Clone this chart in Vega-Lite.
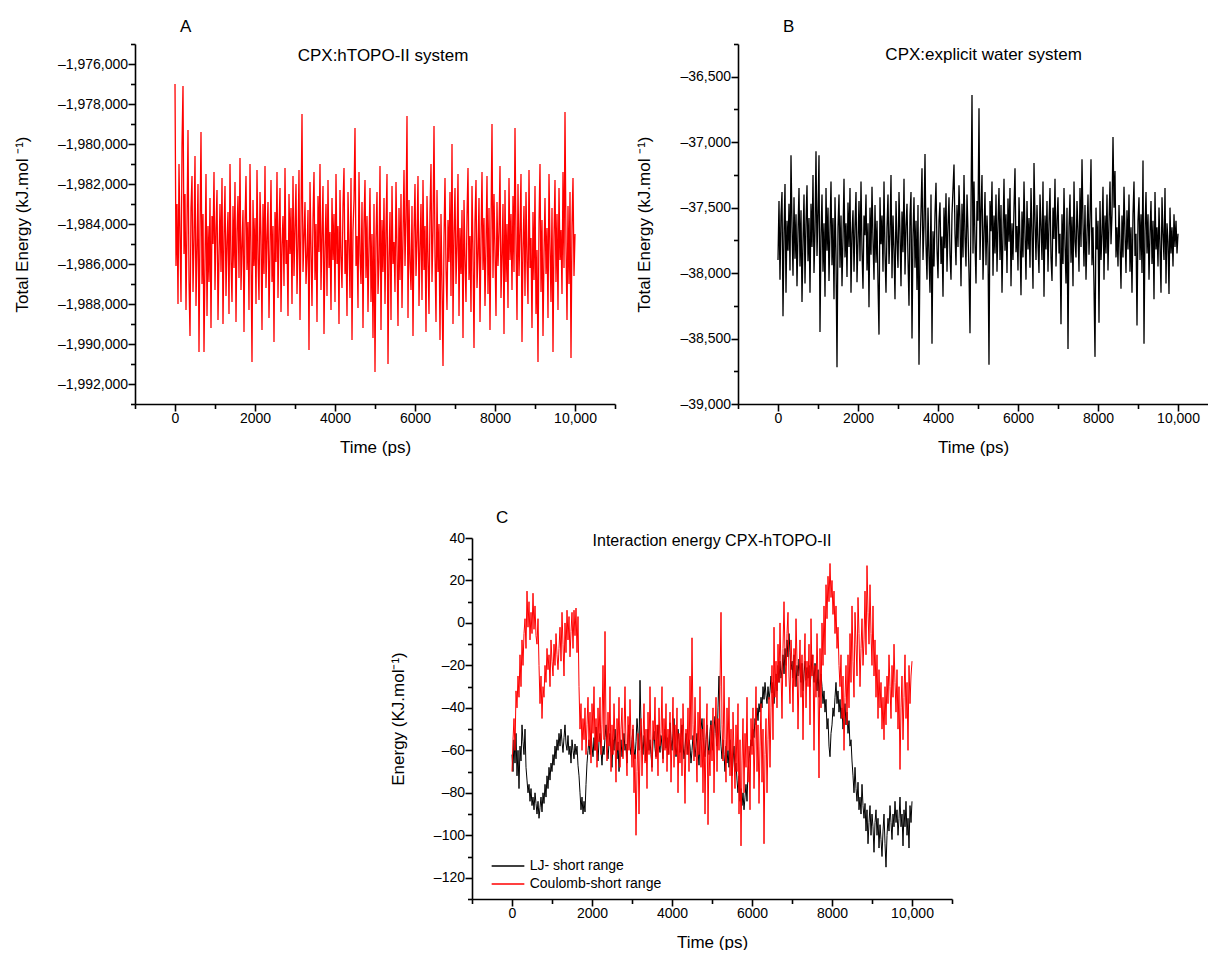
{
"$schema": "https://vega.github.io/schema/vega-lite/v6.json",
"padding": {"left": 13, "top": 18, "right": 0, "bottom": 0},
"config": {
 "view": {"stroke": null},
 "font": "Liberation Sans",
 "axis": {"grid": false, "domainColor": "#000", "domainWidth": 1.6, "tickColor": "#000", "tickWidth": 1.6, "tickSize": 6, "tickCount": 100, "labelColor": "#000", "labelFont": "Liberation Sans", "labelFontSize": 14, "titleFont": "Liberation Sans", "titleFontSize": 17, "titleFontWeight": "normal", "titleColor": "#000", "labelOverlap": false, "labelFlush": false, "labelBound": false},
 "axisX": {"labelPadding": 0.5, "titlePadding": 13.5},
 "axisY": {"labelPadding": 0.5, "titlePadding": 26},
 "title": {"font": "Liberation Sans", "fontSize": 17, "fontWeight": "normal", "anchor": "start", "color": "#000", "frame": "group"},
 "text": {"font": "Liberation Sans", "fontSize": 17, "color": "#000"}
},
"datasets": {"d": [
{"t":0,"a":-1977000,"b":-37900,"lj":-62,"co":-70},
{"t":25,"a":-1986100,"b":-37450,"lj":-70,"co":-55},
{"t":50,"a":-1983000,"b":-38050,"lj":-55,"co":-45},
{"t":75,"a":-1988000,"b":-37560,"lj":-66,"co":-60},
{"t":100,"a":-1981000,"b":-37380,"lj":-52,"co":-32},
{"t":125,"a":-1984500,"b":-38330,"lj":-72,"co":-40},
{"t":150,"a":-1987900,"b":-37700,"lj":-60,"co":-25},
{"t":175,"a":-1980100,"b":-37320,"lj":-78,"co":-35},
{"t":200,"a":-1977100,"b":-38150,"lj":-58,"co":-15},
{"t":225,"a":-1985500,"b":-37600,"lj":-65,"co":-30},
{"t":250,"a":-1982500,"b":-37830,"lj":-48,"co":-8},
{"t":275,"a":-1988300,"b":-37470,"lj":-56,"co":-20},
{"t":300,"a":-1984000,"b":-37980,"lj":-62,"co":-5},
{"t":325,"a":-1979300,"b":-37100,"lj":-50,"co":2},
{"t":350,"a":-1986800,"b":-37640,"lj":-68,"co":-12},
{"t":375,"a":-1989600,"b":-38020,"lj":-74,"co":15},
{"t":400,"a":-1983200,"b":-37420,"lj":-80,"co":-2},
{"t":425,"a":-1981600,"b":-37890,"lj":-76,"co":10},
{"t":450,"a":-1987400,"b":-37550,"lj":-84,"co":-8},
{"t":475,"a":-1984800,"b":-38100,"lj":-78,"co":5},
{"t":500,"a":-1980600,"b":-37680,"lj":-86,"co":-5},
{"t":525,"a":-1988100,"b":-37350,"lj":-82,"co":14},
{"t":550,"a":-1985200,"b":-37950,"lj":-88,"co":-3},
{"t":575,"a":-1982000,"b":-37520,"lj":-80,"co":8},
{"t":600,"a":-1990400,"b":-38220,"lj":-85,"co":-6},
{"t":625,"a":-1984300,"b":-37760,"lj":-90,"co":-10},
{"t":650,"a":-1979400,"b":-37400,"lj":-84,"co":2},
{"t":675,"a":-1987000,"b":-38080,"lj":-92,"co":-20},
{"t":700,"a":-1983500,"b":-37620,"lj":-87,"co":-38},
{"t":725,"a":-1990400,"b":-37330,"lj":-82,"co":-25},
{"t":750,"a":-1985900,"b":-37910,"lj":-89,"co":-45},
{"t":775,"a":-1981500,"b":-37580,"lj":-80,"co":-30},
{"t":800,"a":-1988600,"b":-38150,"lj":-85,"co":-35},
{"t":825,"a":-1984100,"b":-37470,"lj":-76,"co":-20},
{"t":850,"a":-1986900,"b":-37800,"lj":-82,"co":-28},
{"t":875,"a":-1982700,"b":-37250,"lj":-72,"co":-12},
{"t":900,"a":-1989200,"b":-38000,"lj":-78,"co":-22},
{"t":925,"a":-1983600,"b":-37680,"lj":-68,"co":-15},
{"t":950,"a":-1985000,"b":-37070,"lj":-74,"co":-30},
{"t":975,"a":-1981400,"b":-37870,"lj":-66,"co":-8},
{"t":1000,"a":-1987300,"b":-37540,"lj":-70,"co":-18},
{"t":1025,"a":-1984200,"b":-37100,"lj":-62,"co":-25},
{"t":1050,"a":-1982300,"b":-38450,"lj":-67,"co":-10},
{"t":1075,"a":-1988800,"b":-37720,"lj":-58,"co":-20},
{"t":1100,"a":-1985600,"b":-37400,"lj":-64,"co":-5},
{"t":1125,"a":-1983000,"b":-37990,"lj":-55,"co":-15},
{"t":1150,"a":-1986400,"b":-37620,"lj":-60,"co":-22},
{"t":1175,"a":-1981700,"b":-38180,"lj":-52,"co":-12},
{"t":1200,"a":-1989000,"b":-37350,"lj":-58,"co":-2},
{"t":1225,"a":-1984600,"b":-37830,"lj":-50,"co":-18},
{"t":1250,"a":-1982100,"b":-37500,"lj":-56,"co":5},
{"t":1275,"a":-1987600,"b":-38060,"lj":-61,"co":-10},
{"t":1300,"a":-1984900,"b":-37680,"lj":-54,"co":-25},
{"t":1325,"a":-1983400,"b":-37300,"lj":-48,"co":0},
{"t":1350,"a":-1988500,"b":-37940,"lj":-57,"co":-14},
{"t":1375,"a":-1981000,"b":-37580,"lj":-60,"co":6},
{"t":1400,"a":-1985800,"b":-38200,"lj":-53,"co":-8},
{"t":1425,"a":-1987900,"b":-37420,"lj":-62,"co":3},
{"t":1450,"a":-1983100,"b":-37870,"lj":-58,"co":-16},
{"t":1475,"a":-1986200,"b":-38720,"lj":-66,"co":-4},
{"t":1500,"a":-1981900,"b":-37650,"lj":-55,"co":5},
{"t":1525,"a":-1988900,"b":-37400,"lj":-60,"co":-12},
{"t":1550,"a":-1984400,"b":-37960,"lj":-64,"co":6},
{"t":1575,"a":-1982600,"b":-37560,"lj":-57,"co":-6},
{"t":1600,"a":-1986700,"b":-38100,"lj":-62,"co":7},
{"t":1625,"a":-1980700,"b":-37730,"lj":-58,"co":-14},
{"t":1650,"a":-1987300,"b":-37280,"lj":-67,"co":3},
{"t":1675,"a":-1985100,"b":-37880,"lj":-72,"co":-30},
{"t":1700,"a":-1983300,"b":-37620,"lj":-80,"co":-50},
{"t":1725,"a":-1989400,"b":-38030,"lj":-88,"co":-38},
{"t":1750,"a":-1984000,"b":-37460,"lj":-82,"co":-60},
{"t":1775,"a":-1981600,"b":-37800,"lj":-90,"co":-45},
{"t":1800,"a":-1986300,"b":-37350,"lj":-84,"co":-55},
{"t":1825,"a":-1983900,"b":-38150,"lj":-89,"co":-40},
{"t":1850,"a":-1988300,"b":-37700,"lj":-76,"co":-62},
{"t":1875,"a":-1981000,"b":-37520,"lj":-66,"co":-48},
{"t":1900,"a":-1985400,"b":-37990,"lj":-60,"co":-35},
{"t":1925,"a":-1990900,"b":-37640,"lj":-55,"co":-58},
{"t":1950,"a":-1982800,"b":-37380,"lj":-62,"co":-42},
{"t":1975,"a":-1986100,"b":-38070,"lj":-52,"co":-66},
{"t":2000,"a":-1983700,"b":-37760,"lj":-58,"co":-38},
{"t":2025,"a":-1988000,"b":-37450,"lj":-63,"co":-52},
{"t":2050,"a":-1981300,"b":-37910,"lj":-54,"co":-30},
{"t":2075,"a":-1985700,"b":-37300,"lj":-60,"co":-60},
{"t":2100,"a":-1987800,"b":-37830,"lj":-49,"co":-45},
{"t":2125,"a":-1982400,"b":-38120,"lj":-57,"co":-68},
{"t":2150,"a":-1984600,"b":-37560,"lj":-65,"co":-40},
{"t":2175,"a":-1989300,"b":-37710,"lj":-56,"co":-56},
{"t":2200,"a":-1983000,"b":-37400,"lj":-52,"co":-35},
{"t":2225,"a":-1986500,"b":-37980,"lj":-60,"co":-62},
{"t":2250,"a":-1981100,"b":-37620,"lj":-67,"co":-48},
{"t":2275,"a":-1987200,"b":-38260,"lj":-58,"co":-20},
{"t":2300,"a":-1984700,"b":-37500,"lj":-62,"co":-55},
{"t":2325,"a":-1982900,"b":-37860,"lj":-54,"co":-4},
{"t":2350,"a":-1988700,"b":-37340,"lj":-48,"co":-50},
{"t":2375,"a":-1985300,"b":-37750,"lj":-59,"co":-65},
{"t":2400,"a":-1981800,"b":-38050,"lj":-64,"co":-42},
{"t":2425,"a":-1986900,"b":-37480,"lj":-57,"co":-58},
{"t":2450,"a":-1984100,"b":-37920,"lj":-52,"co":-30},
{"t":2475,"a":-1989900,"b":-37600,"lj":-61,"co":-70},
{"t":2500,"a":-1983400,"b":-38080,"lj":-68,"co":-48},
{"t":2525,"a":-1985900,"b":-38470,"lj":-55,"co":-62},
{"t":2550,"a":-1981400,"b":-37420,"lj":-60,"co":-38},
{"t":2575,"a":-1987700,"b":-37780,"lj":-50,"co":-55},
{"t":2600,"a":-1984300,"b":-37560,"lj":-58,"co":-75},
{"t":2625,"a":-1982200,"b":-37990,"lj":-64,"co":-45},
{"t":2650,"a":-1988400,"b":-37300,"lj":-56,"co":-60},
{"t":2675,"a":-1985000,"b":-37850,"lj":-70,"co":-35},
{"t":2700,"a":-1983600,"b":-38150,"lj":-61,"co":-68},
{"t":2725,"a":-1987100,"b":-37650,"lj":-55,"co":-50},
{"t":2750,"a":-1981200,"b":-37400,"lj":-63,"co":-40},
{"t":2775,"a":-1986000,"b":-37930,"lj":-58,"co":-64},
{"t":2800,"a":-1984800,"b":-37700,"lj":-52,"co":-52},
{"t":2825,"a":-1988600,"b":-37250,"lj":-60,"co":-30},
{"t":2850,"a":-1982500,"b":-38040,"lj":-57,"co":-58},
{"t":2875,"a":-1985500,"b":-37560,"lj":-66,"co":-72},
{"t":2900,"a":-1983200,"b":-37820,"lj":-54,"co":-44},
{"t":2925,"a":-1988000,"b":-38200,"lj":-48,"co":-60},
{"t":2950,"a":-1981600,"b":-37450,"lj":-58,"co":-36},
{"t":2975,"a":-1986600,"b":-37750,"lj":-62,"co":-55},
{"t":3000,"a":-1984200,"b":-37960,"lj":-55,"co":-68},
{"t":3025,"a":-1982000,"b":-37380,"lj":-50,"co":-48},
{"t":3050,"a":-1987500,"b":-37690,"lj":-59,"co":-80},
{"t":3075,"a":-1985100,"b":-38100,"lj":-64,"co":-62},
{"t":3100,"a":-1981300,"b":-37530,"lj":-56,"co":-100},
{"t":3125,"a":-1988800,"b":-37840,"lj":-45,"co":-70},
{"t":3150,"a":-1983900,"b":-37280,"lj":-52,"co":-52},
{"t":3175,"a":-1978500,"b":-38010,"lj":-60,"co":-90},
{"t":3200,"a":-1986400,"b":-37640,"lj":-27,"co":-60},
{"t":3225,"a":-1984700,"b":-37470,"lj":-48,"co":-45},
{"t":3250,"a":-1982900,"b":-37890,"lj":-56,"co":-72},
{"t":3275,"a":-1987000,"b":-38250,"lj":-62,"co":-55},
{"t":3300,"a":-1985600,"b":-37560,"lj":-53,"co":-38},
{"t":3325,"a":-1983300,"b":-37380,"lj":-58,"co":-66},
{"t":3350,"a":-1990300,"b":-38500,"lj":-65,"co":-50},
{"t":3375,"a":-1981900,"b":-37720,"lj":-57,"co":-78},
{"t":3400,"a":-1985200,"b":-37420,"lj":-50,"co":-42},
{"t":3425,"a":-1988100,"b":-37960,"lj":-60,"co":-62},
{"t":3450,"a":-1983800,"b":-37600,"lj":-55,"co":-30},
{"t":3475,"a":-1981400,"b":-38130,"lj":-62,"co":-58},
{"t":3500,"a":-1986800,"b":-37480,"lj":-68,"co":-70},
{"t":3525,"a":-1984000,"b":-38700,"lj":-56,"co":-46},
{"t":3550,"a":-1988900,"b":-37820,"lj":-51,"co":-55},
{"t":3575,"a":-1982600,"b":-37530,"lj":-59,"co":-35},
{"t":3600,"a":-1985400,"b":-37200,"lj":-63,"co":-64},
{"t":3625,"a":-1981000,"b":-37900,"lj":-55,"co":-48},
{"t":3650,"a":-1987300,"b":-37640,"lj":-48,"co":-72},
{"t":3675,"a":-1984500,"b":-37090,"lj":-57,"co":-40},
{"t":3700,"a":-1982100,"b":-37780,"lj":-61,"co":-58},
{"t":3725,"a":-1989500,"b":-38050,"lj":-53,"co":-52},
{"t":3750,"a":-1985200,"b":-37500,"lj":-58,"co":-30},
{"t":3775,"a":-1983000,"b":-37870,"lj":-64,"co":-66},
{"t":3800,"a":-1987600,"b":-38150,"lj":-56,"co":-45},
{"t":3825,"a":-1981800,"b":-37400,"lj":-50,"co":-60},
{"t":3850,"a":-1986200,"b":-38540,"lj":-59,"co":-38},
{"t":3875,"a":-1984400,"b":-37680,"lj":-54,"co":-70},
{"t":3900,"a":-1988300,"b":-37950,"lj":-62,"co":-50},
{"t":3925,"a":-1982700,"b":-37550,"lj":-57,"co":-62},
{"t":3950,"a":-1985800,"b":-37310,"lj":-47,"co":-42},
{"t":3975,"a":-1983500,"b":-37820,"lj":-55,"co":-75},
{"t":4000,"a":-1987900,"b":-38040,"lj":-60,"co":-55},
{"t":4025,"a":-1981500,"b":-37600,"lj":-52,"co":-35},
{"t":4050,"a":-1986000,"b":-37460,"lj":-45,"co":-68},
{"t":4075,"a":-1984100,"b":-37930,"lj":-56,"co":-48},
{"t":4100,"a":-1989000,"b":-37720,"lj":-63,"co":-62},
{"t":4125,"a":-1982300,"b":-38180,"lj":-58,"co":-40},
{"t":4150,"a":-1985600,"b":-37500,"lj":-50,"co":-80},
{"t":4175,"a":-1987200,"b":-37810,"lj":-55,"co":-52},
{"t":4200,"a":-1983100,"b":-37390,"lj":-61,"co":-66},
{"t":4225,"a":-1981200,"b":-37990,"lj":-54,"co":-45},
{"t":4250,"a":-1986500,"b":-37640,"lj":-48,"co":-72},
{"t":4275,"a":-1984800,"b":-37420,"lj":-57,"co":-38},
{"t":4300,"a":-1988600,"b":-37860,"lj":-64,"co":-58},
{"t":4325,"a":-1982400,"b":-38050,"lj":-59,"co":-85},
{"t":4350,"a":-1985000,"b":-37550,"lj":-52,"co":-50},
{"t":4375,"a":-1987700,"b":-37360,"lj":-56,"co":-62},
{"t":4400,"a":-1981700,"b":-37170,"lj":-62,"co":-40},
{"t":4425,"a":-1989800,"b":-37700,"lj":-55,"co":-70},
{"t":4450,"a":-1984300,"b":-37940,"lj":-58,"co":-25},
{"t":4475,"a":-1982800,"b":-37480,"lj":-66,"co":-55},
{"t":4500,"a":-1979200,"b":-37800,"lj":-60,"co":-7},
{"t":4525,"a":-1986100,"b":-37330,"lj":-53,"co":-48},
{"t":4550,"a":-1984600,"b":-37600,"lj":-57,"co":-65},
{"t":4575,"a":-1988200,"b":-38100,"lj":-63,"co":-35},
{"t":4600,"a":-1981400,"b":-37470,"lj":-58,"co":-58},
{"t":4625,"a":-1985500,"b":-37880,"lj":-52,"co":-75},
{"t":4650,"a":-1987000,"b":-37250,"lj":-60,"co":-42},
{"t":4675,"a":-1982900,"b":-37720,"lj":-67,"co":-62},
{"t":4700,"a":-1989200,"b":-37950,"lj":-56,"co":-30},
{"t":4725,"a":-1984000,"b":-37400,"lj":-50,"co":-68},
{"t":4750,"a":-1981800,"b":-37680,"lj":-45,"co":-50},
{"t":4775,"a":-1986700,"b":-38000,"lj":-54,"co":-80},
{"t":4800,"a":-1983600,"b":-38460,"lj":-59,"co":-45},
{"t":4825,"a":-1988400,"b":-37500,"lj":-63,"co":-90},
{"t":4850,"a":-1985100,"b":-36640,"lj":-55,"co":-55},
{"t":4875,"a":-1982200,"b":-37850,"lj":-48,"co":-38},
{"t":4900,"a":-1987900,"b":-37300,"lj":-57,"co":-95},
{"t":4925,"a":-1984500,"b":-37760,"lj":-62,"co":-60},
{"t":4950,"a":-1989700,"b":-38080,"lj":-51,"co":-72},
{"t":4975,"a":-1983000,"b":-37450,"lj":-46,"co":-48},
{"t":5000,"a":-1991400,"b":-37600,"lj":-55,"co":-65},
{"t":5025,"a":-1984700,"b":-36740,"lj":-60,"co":-40},
{"t":5050,"a":-1982400,"b":-37900,"lj":-50,"co":-80},
{"t":5075,"a":-1987500,"b":-37520,"lj":-44,"co":-52},
{"t":5100,"a":-1985900,"b":-37250,"lj":-52,"co":-35},
{"t":5125,"a":-1981100,"b":-38050,"lj":-58,"co":-70},
{"t":5150,"a":-1989300,"b":-37700,"lj":-40,"co":-45},
{"t":5175,"a":-1983800,"b":-37380,"lj":-25,"co":-60},
{"t":5200,"a":-1986400,"b":-37940,"lj":-50,"co":-30},
{"t":5225,"a":-1982700,"b":-37560,"lj":-58,"co":5},
{"t":5250,"a":-1988000,"b":-37810,"lj":-64,"co":-48},
{"t":5275,"a":-1984200,"b":-38700,"lj":-55,"co":-65},
{"t":5300,"a":-1981500,"b":-37450,"lj":-62,"co":-25},
{"t":5325,"a":-1991000,"b":-37680,"lj":-70,"co":-55},
{"t":5350,"a":-1985700,"b":-37300,"lj":-58,"co":-75},
{"t":5375,"a":-1983400,"b":-38020,"lj":-66,"co":-40},
{"t":5400,"a":-1988800,"b":-37560,"lj":-60,"co":-60},
{"t":5425,"a":-1982100,"b":-37850,"lj":-68,"co":-35},
{"t":5450,"a":-1986000,"b":-37400,"lj":-55,"co":-72},
{"t":5475,"a":-1984900,"b":-37990,"lj":-63,"co":-50},
{"t":5500,"a":-1987400,"b":-37620,"lj":-72,"co":-85},
{"t":5525,"a":-1981900,"b":-37350,"lj":-65,"co":-42},
{"t":5550,"a":-1985300,"b":-37900,"lj":-58,"co":-62},
{"t":5575,"a":-1989100,"b":-37480,"lj":-70,"co":-78},
{"t":5600,"a":-1983200,"b":-38150,"lj":-66,"co":-48},
{"t":5625,"a":-1986800,"b":-37700,"lj":-74,"co":-70},
{"t":5650,"a":-1982500,"b":-37280,"lj":-80,"co":-38},
{"t":5675,"a":-1988200,"b":-37830,"lj":-72,"co":-90},
{"t":5700,"a":-1984600,"b":-37550,"lj":-84,"co":-55},
{"t":5725,"a":-1981300,"b":-38000,"lj":-78,"co":-105},
{"t":5750,"a":-1986100,"b":-37430,"lj":-86,"co":-65},
{"t":5775,"a":-1983700,"b":-37760,"lj":-80,"co":-45},
{"t":5800,"a":-1978600,"b":-37350,"lj":-88,"co":-80},
{"t":5825,"a":-1988700,"b":-38100,"lj":-82,"co":-52},
{"t":5850,"a":-1982800,"b":-37620,"lj":-76,"co":-68},
{"t":5875,"a":-1985900,"b":-37900,"lj":-84,"co":-35},
{"t":5900,"a":-1987300,"b":-37500,"lj":-70,"co":-75},
{"t":5925,"a":-1983100,"b":-37200,"lj":-64,"co":-58},
{"t":5950,"a":-1989600,"b":-37840,"lj":-60,"co":-88},
{"t":5975,"a":-1984400,"b":-37640,"lj":-55,"co":-45},
{"t":6000,"a":-1982000,"b":-37980,"lj":-58,"co":-62},
{"t":6025,"a":-1986600,"b":-37420,"lj":-50,"co":-40},
{"t":6050,"a":-1984800,"b":-37750,"lj":-54,"co":-78},
{"t":6075,"a":-1981600,"b":-38170,"lj":-45,"co":-55},
{"t":6100,"a":-1988100,"b":-37530,"lj":-48,"co":-30},
{"t":6125,"a":-1985200,"b":-37880,"lj":-40,"co":-70},
{"t":6150,"a":-1983000,"b":-37300,"lj":-46,"co":-48},
{"t":6175,"a":-1987800,"b":-37700,"lj":-38,"co":-85},
{"t":6200,"a":-1981800,"b":-38050,"lj":-42,"co":-58},
{"t":6225,"a":-1986300,"b":-37450,"lj":-35,"co":-38},
{"t":6250,"a":-1984100,"b":-37820,"lj":-40,"co":-75},
{"t":6275,"a":-1989400,"b":-37580,"lj":-30,"co":-50},
{"t":6300,"a":-1982600,"b":-37960,"lj":-36,"co":-104},
{"t":6325,"a":-1985700,"b":-37350,"lj":-28,"co":-62},
{"t":6350,"a":-1988500,"b":-37700,"lj":-34,"co":-45},
{"t":6375,"a":-1983400,"b":-38120,"lj":-38,"co":-80},
{"t":6400,"a":-1981000,"b":-37160,"lj":-30,"co":-55},
{"t":6425,"a":-1986900,"b":-37600,"lj":-36,"co":-35},
{"t":6450,"a":-1984300,"b":-37900,"lj":-32,"co":-68},
{"t":6475,"a":-1979100,"b":-37480,"lj":-25,"co":-40},
{"t":6500,"a":-1985600,"b":-37780,"lj":-33,"co":-20},
{"t":6525,"a":-1988900,"b":-38000,"lj":-28,"co":-55},
{"t":6550,"a":-1982300,"b":-37400,"lj":-38,"co":-2},
{"t":6575,"a":-1986400,"b":-37650,"lj":-30,"co":-35},
{"t":6600,"a":-1984000,"b":-37900,"lj":-24,"co":-18},
{"t":6625,"a":-1989800,"b":-37300,"lj":-32,"co":-40},
{"t":6650,"a":-1983500,"b":-38180,"lj":-20,"co":-10},
{"t":6675,"a":-1987100,"b":-37560,"lj":-28,"co":-28},
{"t":6700,"a":-1991100,"b":-37820,"lj":-18,"co":0},
{"t":6725,"a":-1984700,"b":-37450,"lj":-26,"co":-22},
{"t":6750,"a":-1981700,"b":-37990,"lj":-22,"co":-45},
{"t":6775,"a":-1986200,"b":-37620,"lj":-15,"co":-12},
{"t":6800,"a":-1988300,"b":-37350,"lj":-24,"co":10},
{"t":6825,"a":-1983800,"b":-37880,"lj":-12,"co":-15},
{"t":6850,"a":-1985900,"b":-38060,"lj":-20,"co":-30},
{"t":6875,"a":-1982400,"b":-37500,"lj":-8,"co":-5},
{"t":6900,"a":-1987600,"b":-37740,"lj":-16,"co":5},
{"t":6925,"a":-1980000,"b":-37280,"lj":-5,"co":-25},
{"t":6950,"a":-1989000,"b":-37950,"lj":-14,"co":-38},
{"t":6975,"a":-1984500,"b":-37600,"lj":-22,"co":-8},
{"t":7000,"a":-1982200,"b":-37420,"lj":-18,"co":-20},
{"t":7025,"a":-1987000,"b":-37850,"lj":-26,"co":-42},
{"t":7050,"a":-1985100,"b":-37700,"lj":-15,"co":-12},
{"t":7075,"a":-1981500,"b":-38390,"lj":-22,"co":-30},
{"t":7100,"a":-1988600,"b":-37550,"lj":-30,"co":2},
{"t":7125,"a":-1984200,"b":-37930,"lj":-20,"co":-18},
{"t":7150,"a":-1986500,"b":-37350,"lj":-25,"co":-50},
{"t":7175,"a":-1983300,"b":-37780,"lj":-17,"co":-25},
{"t":7200,"a":-1989700,"b":-38080,"lj":-23,"co":-8},
{"t":7225,"a":-1982800,"b":-37500,"lj":-28,"co":-35},
{"t":7250,"a":-1985800,"b":-38580,"lj":-19,"co":-15},
{"t":7275,"a":-1987900,"b":-37650,"lj":-32,"co":-55},
{"t":7300,"a":-1983600,"b":-37400,"lj":-24,"co":-22},
{"t":7325,"a":-1981200,"b":-37920,"lj":-18,"co":-5},
{"t":7350,"a":-1986800,"b":-37570,"lj":-27,"co":-40},
{"t":7375,"a":-1984600,"b":-38100,"lj":-21,"co":-18},
{"t":7400,"a":-1988400,"b":-37300,"lj":-26,"co":-30},
{"t":7425,"a":-1982100,"b":-37760,"lj":-20,"co":-10},
{"t":7450,"a":-1985300,"b":-37880,"lj":-30,"co":-48},
{"t":7475,"a":-1990200,"b":-37450,"lj":-24,"co":2},
{"t":7500,"a":-1983900,"b":-37680,"lj":-15,"co":-25},
{"t":7525,"a":-1981800,"b":-37990,"lj":-22,"co":-15},
{"t":7550,"a":-1987200,"b":-37350,"lj":-28,"co":-60},
{"t":7575,"a":-1985500,"b":-37800,"lj":-19,"co":-20},
{"t":7600,"a":-1982700,"b":-37130,"lj":-25,"co":-35},
{"t":7625,"a":-1988900,"b":-37620,"lj":-32,"co":-5},
{"t":7650,"a":-1984800,"b":-37950,"lj":-22,"co":-28},
{"t":7675,"a":-1981400,"b":-37480,"lj":-35,"co":-73},
{"t":7700,"a":-1986300,"b":-38050,"lj":-28,"co":-12},
{"t":7725,"a":-1983700,"b":-37700,"lj":-24,"co":-40},
{"t":7750,"a":-1988100,"b":-37400,"lj":-30,"co":0},
{"t":7775,"a":-1985000,"b":-37860,"lj":-38,"co":-20},
{"t":7800,"a":-1981600,"b":-37580,"lj":-32,"co":8},
{"t":7825,"a":-1987500,"b":-37130,"lj":-42,"co":-15},
{"t":7850,"a":-1983200,"b":-37940,"lj":-36,"co":18},
{"t":7875,"a":-1989300,"b":-37650,"lj":-50,"co":2},
{"t":7900,"a":-1984100,"b":-38100,"lj":-45,"co":22},
{"t":7925,"a":-1979000,"b":-38640,"lj":-58,"co":10},
{"t":7950,"a":-1986700,"b":-37500,"lj":-63,"co":28},
{"t":7975,"a":-1982500,"b":-37820,"lj":-52,"co":12},
{"t":8000,"a":-1985400,"b":-37600,"lj":-48,"co":20},
{"t":8025,"a":-1988600,"b":-38380,"lj":-40,"co":4},
{"t":8050,"a":-1982900,"b":-37450,"lj":-44,"co":15},
{"t":8075,"a":-1986100,"b":-37900,"lj":-35,"co":-5},
{"t":8100,"a":-1984400,"b":-37700,"lj":-28,"co":8},
{"t":8125,"a":-1981100,"b":-37340,"lj":-38,"co":-12},
{"t":8150,"a":-1987700,"b":-38050,"lj":-32,"co":-2},
{"t":8175,"a":-1985600,"b":-37560,"lj":-42,"co":-20},
{"t":8200,"a":-1983000,"b":-37850,"lj":-36,"co":-30},
{"t":8225,"a":-1989500,"b":-37400,"lj":-45,"co":-15},
{"t":8250,"a":-1982300,"b":-37980,"lj":-40,"co":-45},
{"t":8275,"a":-1986900,"b":-37620,"lj":-50,"co":-25},
{"t":8300,"a":-1984000,"b":-37300,"lj":-44,"co":-60},
{"t":8325,"a":-1988200,"b":-37780,"lj":-38,"co":-35},
{"t":8350,"a":-1981700,"b":-37550,"lj":-48,"co":-20},
{"t":8375,"a":-1985800,"b":-36960,"lj":-42,"co":-48},
{"t":8400,"a":-1983500,"b":-37500,"lj":-52,"co":-15},
{"t":8425,"a":-1987300,"b":-37220,"lj":-46,"co":-40},
{"t":8450,"a":-1982600,"b":-37880,"lj":-58,"co":-5},
{"t":8475,"a":-1986400,"b":-37650,"lj":-55,"co":-28},
{"t":8500,"a":-1979200,"b":-37950,"lj":-65,"co":8},
{"t":8525,"a":-1984900,"b":-37480,"lj":-72,"co":-18},
{"t":8550,"a":-1988800,"b":-37780,"lj":-80,"co":-35},
{"t":8575,"a":-1982000,"b":-38120,"lj":-68,"co":5},
{"t":8600,"a":-1986600,"b":-37560,"lj":-78,"co":-10},
{"t":8625,"a":-1984300,"b":-37880,"lj":-84,"co":-25},
{"t":8650,"a":-1981500,"b":-37340,"lj":-75,"co":12},
{"t":8675,"a":-1989900,"b":-37700,"lj":-88,"co":-5},
{"t":8700,"a":-1985200,"b":-38000,"lj":-82,"co":-30},
{"t":8725,"a":-1983100,"b":-37520,"lj":-90,"co":-12},
{"t":8750,"a":-1987600,"b":-37820,"lj":-76,"co":2},
{"t":8775,"a":-1982400,"b":-37400,"lj":-86,"co":-20},
{"t":8800,"a":-1985900,"b":-37990,"lj":-92,"co":-8},
{"t":8825,"a":-1988000,"b":-37650,"lj":-85,"co":15},
{"t":8850,"a":-1981300,"b":-38150,"lj":-98,"co":-15},
{"t":8875,"a":-1986200,"b":-37550,"lj":-88,"co":27},
{"t":8900,"a":-1984700,"b":-37300,"lj":-104,"co":5},
{"t":8925,"a":-1989200,"b":-37870,"lj":-94,"co":-10},
{"t":8950,"a":-1983400,"b":-37700,"lj":-86,"co":18},
{"t":8975,"a":-1986800,"b":-38400,"lj":-100,"co":-5},
{"t":9000,"a":-1982100,"b":-37600,"lj":-90,"co":-20},
{"t":9025,"a":-1988500,"b":-37420,"lj":-96,"co":8},
{"t":9050,"a":-1985300,"b":-37900,"lj":-108,"co":-25},
{"t":9075,"a":-1990900,"b":-37550,"lj":-94,"co":-8},
{"t":9100,"a":-1984000,"b":-38000,"lj":-88,"co":-35},
{"t":9125,"a":-1981000,"b":-37140,"lj":-100,"co":-15},
{"t":9150,"a":-1987400,"b":-38540,"lj":-92,"co":-45},
{"t":9175,"a":-1983800,"b":-37680,"lj":-106,"co":-22},
{"t":9200,"a":-1989600,"b":-37380,"lj":-95,"co":-40},
{"t":9225,"a":-1985500,"b":-37850,"lj":-102,"co":-28},
{"t":9250,"a":-1982700,"b":-37550,"lj":-110,"co":-50},
{"t":9275,"a":-1986500,"b":-38050,"lj":-98,"co":-35},
{"t":9300,"a":-1984200,"b":-37700,"lj":-90,"co":-55},
{"t":9325,"a":-1988700,"b":-37450,"lj":-104,"co":-30},
{"t":9350,"a":-1981500,"b":-37930,"lj":-115,"co":-48},
{"t":9375,"a":-1985100,"b":-37600,"lj":-100,"co":-25},
{"t":9400,"a":-1987900,"b":-38200,"lj":-92,"co":-38},
{"t":9425,"a":-1983200,"b":-37380,"lj":-98,"co":-15},
{"t":9450,"a":-1990400,"b":-37820,"lj":-86,"co":-30},
{"t":9475,"a":-1984600,"b":-37650,"lj":-94,"co":-45},
{"t":9500,"a":-1981800,"b":-37950,"lj":-102,"co":-20},
{"t":9525,"a":-1986900,"b":-37500,"lj":-90,"co":-35},
{"t":9550,"a":-1983500,"b":-37800,"lj":-96,"co":-10},
{"t":9575,"a":-1988300,"b":-38150,"lj":-84,"co":-28},
{"t":9600,"a":-1982200,"b":-37420,"lj":-94,"co":-42},
{"t":9625,"a":-1985800,"b":-37700,"lj":-88,"co":-22},
{"t":9650,"a":-1984300,"b":-37900,"lj":-100,"co":-50},
{"t":9675,"a":-1987500,"b":-37350,"lj":-92,"co":-30},
{"t":9700,"a":-1981400,"b":-38080,"lj":-82,"co":-69},
{"t":9725,"a":-1986200,"b":-37620,"lj":-96,"co":-40},
{"t":9750,"a":-1978400,"b":-37760,"lj":-90,"co":-25},
{"t":9775,"a":-1985000,"b":-38160,"lj":-105,"co":-55},
{"t":9800,"a":-1988800,"b":-37500,"lj":-88,"co":-35},
{"t":9825,"a":-1983100,"b":-37850,"lj":-96,"co":-15},
{"t":9850,"a":-1987000,"b":-37650,"lj":-84,"co":-45},
{"t":9875,"a":-1982400,"b":-37950,"lj":-100,"co":-28},
{"t":9900,"a":-1990700,"b":-37550,"lj":-92,"co":-60},
{"t":9925,"a":-1984100,"b":-37800,"lj":-106,"co":-20},
{"t":9950,"a":-1981700,"b":-37600,"lj":-86,"co":-38},
{"t":9975,"a":-1986600,"b":-37850,"lj":-94,"co":-25},
{"t":10000,"a":-1984500,"b":-37700,"lj":-84,"co":-18}
]},
"data": {"name": "d"},
"spacing": 53,
"vconcat": [
 {"hconcat": [
  {"width": 480, "height": 360,
   "title": {"text": "A", "dx": 45, "offset": 1},
   "layer": [
    {"mark": {"type": "line", "color": "#ff0000", "strokeWidth": 1.3},
     "encoding": {
      "x": {"field": "t", "type": "quantitative", "scale": {"domain": [-1000, 11000], "nice": false, "zero": false},
            "axis": {"title": "Time (ps)", "tickCount": 100, "values": [-1000,0,1000,2000,3000,4000,5000,6000,7000,8000,9000,10000,11000],
                     "labelExpr": "datum.value < 0 || datum.value > 10000 || datum.value % 2000 != 0 ? '' : (datum.value == 10000 ? '10,000' : format(datum.value, 'd'))",
                     "tickSize": {"condition": {"test": "datum.value % 2000 == 0", "value": 7}, "value": 4.5}}},
      "y": {"field": "a", "type": "quantitative", "scale": {"domain": [-1993000, -1975000], "nice": false, "zero": false},
            "axis": {"title": "Total Energy (kJ.mol ⁻¹)", "tickCount": 100, "values": [-1993000,-1992000,-1991000,-1990000,-1989000,-1988000,-1987000,-1986000,-1985000,-1984000,-1983000,-1982000,-1981000,-1980000,-1979000,-1978000,-1977000,-1976000,-1975000],
                     "labelExpr": "datum.value % 2000 == 0 ? replace(format(datum.value, ','), '\u2212', '\u2013') : ''",
                     "tickSize": {"condition": {"test": "datum.value % 2000 == 0", "value": 7}, "value": 4.5}}}
     }},
    {"data": {"values": [{}]},
     "mark": {"type": "text", "text": "CPX:hTOPO-II system", "fontSize": 17, "baseline": "alphabetic", "align": "center"},
     "encoding": {"x": {"datum": 5200}, "y": {"datum": -1975850}}}
   ]},
  {"width": 470, "height": 360,
   "title": {"text": "B", "dx": 45, "offset": 1},
   "layer": [
    {"mark": {"type": "line", "color": "#000000", "strokeWidth": 1.3},
     "encoding": {
      "x": {"field": "t", "type": "quantitative", "scale": {"domain": [-1000, 10750], "nice": false, "zero": false},
            "axis": {"title": "Time (ps)", "tickCount": 100, "values": [-1000,0,1000,2000,3000,4000,5000,6000,7000,8000,9000,10000],
                     "labelExpr": "datum.value < 0 || datum.value > 10000 || datum.value % 2000 != 0 ? '' : (datum.value == 10000 ? '10,000' : format(datum.value, 'd'))",
                     "tickSize": {"condition": {"test": "datum.value % 2000 == 0", "value": 7}, "value": 4.5}}},
      "y": {"field": "b", "type": "quantitative", "scale": {"domain": [-39000, -36250], "nice": false, "zero": false},
            "axis": {"title": "Total Energy (kJ.mol ⁻¹)", "tickCount": 100, "values": [-39000,-38750,-38500,-38250,-38000,-37750,-37500,-37250,-37000,-36750,-36500,-36250],
                     "labelExpr": "datum.value % 500 == 0 ? replace(format(datum.value, ','), '\u2212', '\u2013') : ''",
                     "tickSize": {"condition": {"test": "datum.value % 500 == 0", "value": 7}, "value": 4.5}}}
     }},
    {"data": {"values": [{}]},
     "mark": {"type": "text", "text": "CPX:explicit water system", "fontSize": 17, "baseline": "alphabetic", "align": "center"},
     "encoding": {"x": {"datum": 5140}, "y": {"datum": -36375}}}
   ]}
 ], "spacing": 19},
 {"hconcat": [
  {"width": 254, "height": 10, "data": {"values": [{}]}, "mark": {"type": "point", "opacity": 0}, "encoding": {}},
  {"width": 480, "height": 361,
   "title": {"text": "C", "dx": 24, "offset": 4.5},
   "layer": [
    {"mark": {"type": "line", "strokeWidth": 1},
     "encoding": {
      "x": {"field": "t", "type": "quantitative", "scale": {"domain": [-1000, 11000], "nice": false, "zero": false},
            "axis": {"title": "Time (ps)", "tickCount": 100, "values": [-1000,0,1000,2000,3000,4000,5000,6000,7000,8000,9000,10000,11000],
                     "labelExpr": "datum.value < 0 || datum.value > 10000 || datum.value % 2000 != 0 ? '' : (datum.value == 10000 ? '10,000' : format(datum.value, 'd'))",
                     "tickSize": {"condition": {"test": "datum.value % 2000 == 0", "value": 7}, "value": 4.5}}},
      "y": {"field": "lj", "type": "quantitative", "scale": {"domain": [-130, 40], "nice": false, "zero": false},
            "axis": {"title": "Energy (KJ.mol⁻¹)", "tickCount": 100, "values": [-130,-120,-110,-100,-90,-80,-70,-60,-50,-40,-30,-20,-10,0,10,20,30,40],
                     "labelExpr": "datum.value % 20 == 0 ? replace(format(datum.value, 'd'), '\u2212', '\u2013') : ''",
                     "tickSize": {"condition": {"test": "datum.value % 20 == 0", "value": 7}, "value": 4.5}}},
      "color": {"datum": "LJ- short range", "type": "nominal",
                "scale": {"domain": ["LJ- short range", "Coulomb-short range"], "range": ["#000000", "#ff0000"]},
                "legend": {"orient": "none", "legendX": 366, "legendY": 815, "title": null, "symbolType": "M-3.27,0H3.27", "symbolSize": 100, "symbolStrokeWidth": 1.5, "labelFontSize": 14, "labelFont": "Liberation Sans", "labelColor": "#000", "padding": 0, "rowPadding": 4, "labelOffset": 14.7}}
     }},
    {"mark": {"type": "line", "strokeWidth": 1},
     "encoding": {
      "x": {"field": "t", "type": "quantitative"},
      "y": {"field": "co", "type": "quantitative", "title": "Energy (KJ.mol⁻¹)"},
      "color": {"datum": "Coulomb-short range", "type": "nominal"}
     }},
    {"data": {"values": [{}]},
     "mark": {"type": "text", "text": "Interaction energy CPX-hTOPO-II", "fontSize": 16, "baseline": "alphabetic", "align": "center"},
     "encoding": {"x": {"datum": 5000}, "y": {"datum": 36}}}
   ]}
 ], "spacing": 0}
]
}
